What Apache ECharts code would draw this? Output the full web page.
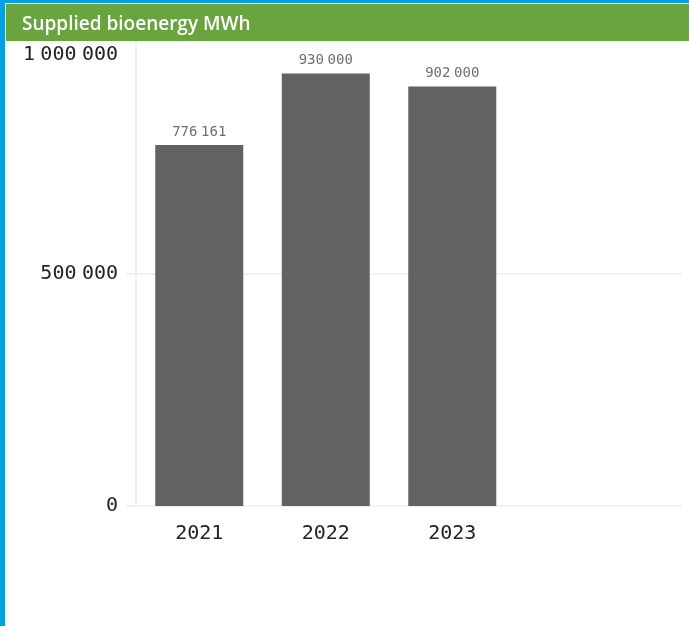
<!DOCTYPE html>
<html>
<head>
<meta charset="utf-8">
<script src="https://cdn.jsdelivr.net/npm/echarts@6/dist/echarts.min.js"></script>
<style>
  html, body { margin: 0; padding: 0; background: #ffffff; }
  #chart { width: 689px; height: 626px; }
</style>
</head>
<body>
<div id="chart"></div>
<script>
// Supplied bioenergy per year (MWh)
const titleText = 'Supplied bioenergy MWh';
const years = ['2021', '2022', '2023'];
const supplied = [776161, 930000, 902000];
const yTicks = [0, 500000, 1000000];

const yMin = yTicks[0];
const yMax = yTicks[yTicks.length - 1];
const yStep = yTicks[1] - yTicks[0];

// Split a number into groups of three digits
function groups(v) {
  return String(Math.round(v)).replace(/\B(?=(\d{3})+(?!\d))/g, ' ').split(' ');
}
// Rich-text string: digit groups joined by a narrow gap segment
function richNumber(v, digitStyle, gapStyle) {
  return groups(v).map(g => '{' + digitStyle + '|' + g + '}').join('{' + gapStyle + '| }');
}

const mono = '"DejaVu Sans Mono", "Liberation Mono", monospace';

const chart = echarts.init(document.getElementById('chart'), null, { renderer: 'canvas' });

chart.setOption({
  animation: false,
  backgroundColor: '#ffffff',
  title: {
    text: titleText,
    left: 17,
    top: 10,
    textStyle: {
      color: '#ffffff',
      fontFamily: '"Open Sans", "Noto Sans", sans-serif',
      fontWeight: 600,
      fontSize: 19
    },
    z: 10
  },
  graphic: [
    { type: 'rect', left: 0, top: 0, shape: { width: 689, height: 3 }, style: { fill: '#00a0e3' }, z: 1 },
    { type: 'rect', left: 0, top: 0, shape: { width: 5, height: 626 }, style: { fill: '#00a0e3' }, z: 1 },
    { type: 'rect', left: 6, top: 4, shape: { width: 683, height: 37 }, style: { fill: '#6aa43f' }, z: 2 }
  ],
  grid: [
    // full-width grid carrying the value axis and its gridlines
    { left: 136, right: 7, top: 41, bottom: 120, containLabel: false },
    // grid holding the three year bands
    { left: 136, width: 379.5, top: 41, bottom: 120, containLabel: false }
  ],
  xAxis: [
    { type: 'value', gridIndex: 0, show: false, min: 0, max: 1 },
    {
      type: 'category',
      gridIndex: 1,
      data: years,
      axisLine: { show: false },
      axisTick: { show: false },
      axisLabel: {
        color: '#222222',
        fontFamily: mono,
        fontSize: 20,
        margin: 18
      }
    }
  ],
  yAxis: [
    {
      type: 'value',
      gridIndex: 0,
      min: yMin,
      max: yMax,
      interval: yStep,
      axisLine: { show: true, lineStyle: { color: '#ececec', width: 1.5 } },
      axisTick: { show: true, length: 10, lineStyle: { color: '#ececec', width: 1.5 } },
      splitLine: { show: true, lineStyle: { color: '#ececec', width: 1.5 } },
      axisLabel: {
        color: '#222222',
        margin: 18,
        formatter: v => v === yMax ? richNumber(v, 'dt', 'st') : richNumber(v, 'd', 's'),
        rich: {
          d: { fontFamily: mono, fontSize: 20, color: '#222222' },
          s: { fontFamily: mono, fontSize: 9, color: '#222222' },
          // topmost label sits just under the heading band
          dt: { fontFamily: mono, fontSize: 20, color: '#222222', padding: [28, 0, 0, 0] },
          st: { fontFamily: mono, fontSize: 9, color: '#222222', padding: [28, 0, 0, 0] }
        }
      }
    },
    {
      type: 'value',
      gridIndex: 1,
      min: yMin,
      max: yMax,
      interval: yStep,
      show: false,
      splitLine: { show: false }
    }
  ],
  series: [
    {
      type: 'bar',
      xAxisIndex: 1,
      yAxisIndex: 1,
      data: supplied,
      barWidth: 88,
      itemStyle: { color: '#626262' },
      label: {
        show: true,
        position: 'top',
        distance: 6,
        formatter: p => richNumber(p.value, 'v', 'g'),
        rich: {
          v: { fontFamily: mono, fontSize: 14, color: '#6e6e6e' },
          g: { fontFamily: mono, fontSize: 6, color: '#6e6e6e' }
        }
      }
    }
  ]
});
</script>
</body>
</html>
